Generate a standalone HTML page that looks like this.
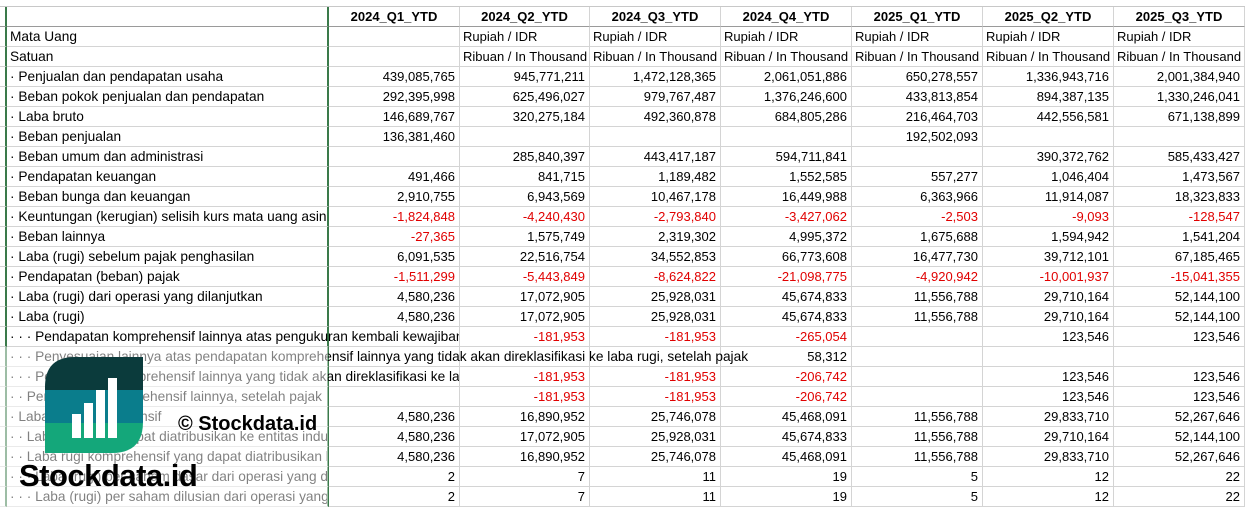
<!DOCTYPE html>
<html><head><meta charset="utf-8">
<style>
html,body{margin:0;padding:0;background:#fff;width:1245px;height:507px;overflow:hidden;font-family:"Liberation Sans",Arial,sans-serif;font-size:13px;color:#000}
#top{position:absolute;left:0;top:0;width:1245px;height:6px;border-bottom:1px solid #c8c8c8}
.row{position:absolute;left:0;height:20px;width:1245px}
.c{position:absolute;top:0;height:20px;box-sizing:border-box;border-right:1px solid #d4d4d4;border-bottom:1px solid #d4d4d4;white-space:nowrap;overflow:hidden;text-align:right;line-height:19px;padding:0 4px}
.c0{left:0;width:7px;border-right:2px solid #3a7a4a;padding:0}
.c1{left:7px;width:322px;text-align:left;padding-left:3px;border-right:2px solid #3a7a4a;overflow:visible;font-size:13.7px}
.c1 .t{overflow:hidden;width:317px}
.c2{left:329px;width:131px}.c3{left:460px;width:130px}.c4{left:590px;width:131px}.c5{left:721px;width:131px}.c6{left:852px;width:131px}.c7{left:983px;width:131px}.c8{left:1114px;width:131px}
.h .c{font-weight:bold;text-align:center;border-bottom:1px solid #9a9a9a}
.l{text-align:left;padding-left:3px}
.r{color:#e00000}
.ov{position:absolute;left:10px;top:0;overflow:hidden;white-space:nowrap;z-index:2;font-size:13.7px;line-height:19px}
#veil{position:absolute;left:0;top:347px;width:328px;height:160px;background:rgba(255,255,255,0.5);z-index:5}
#logo{position:absolute;left:45px;top:357px;z-index:6}
#copy{position:absolute;left:178px;top:413px;font-weight:bold;font-size:20px;z-index:6}
#brand{position:absolute;left:19px;top:458px;font-weight:bold;font-size:31px;letter-spacing:-0.5px;z-index:6}
</style></head><body>
<div id="top"></div>
<div class="row h" style="top:7px"><div class="c c0"></div><div class="c c1"></div><div class="c c2">2024_Q1_YTD</div><div class="c c3">2024_Q2_YTD</div><div class="c c4">2024_Q3_YTD</div><div class="c c5">2024_Q4_YTD</div><div class="c c6">2025_Q1_YTD</div><div class="c c7">2025_Q2_YTD</div><div class="c c8">2025_Q3_YTD</div></div>
<div class="row" style="top:27px"><div class="c c0"></div><div class="c c1"><div class="t">Mata Uang</div></div><div class="c c2"></div><div class="c c3 l">Rupiah / IDR</div><div class="c c4 l">Rupiah / IDR</div><div class="c c5 l">Rupiah / IDR</div><div class="c c6 l">Rupiah / IDR</div><div class="c c7 l">Rupiah / IDR</div><div class="c c8 l">Rupiah / IDR</div></div>
<div class="row" style="top:47px"><div class="c c0"></div><div class="c c1"><div class="t">Satuan</div></div><div class="c c2"></div><div class="c c3 l">Ribuan / In Thousand</div><div class="c c4 l">Ribuan / In Thousand</div><div class="c c5 l">Ribuan / In Thousand</div><div class="c c6 l">Ribuan / In Thousand</div><div class="c c7 l">Ribuan / In Thousand</div><div class="c c8 l">Ribuan / In Thousand</div></div>
<div class="row" style="top:67px"><div class="c c0"></div><div class="c c1"><div class="t">· Penjualan dan pendapatan usaha</div></div><div class="c c2">439,085,765</div><div class="c c3">945,771,211</div><div class="c c4">1,472,128,365</div><div class="c c5">2,061,051,886</div><div class="c c6">650,278,557</div><div class="c c7">1,336,943,716</div><div class="c c8">2,001,384,940</div></div>
<div class="row" style="top:87px"><div class="c c0"></div><div class="c c1"><div class="t">· Beban pokok penjualan dan pendapatan</div></div><div class="c c2">292,395,998</div><div class="c c3">625,496,027</div><div class="c c4">979,767,487</div><div class="c c5">1,376,246,600</div><div class="c c6">433,813,854</div><div class="c c7">894,387,135</div><div class="c c8">1,330,246,041</div></div>
<div class="row" style="top:107px"><div class="c c0"></div><div class="c c1"><div class="t">· Laba bruto</div></div><div class="c c2">146,689,767</div><div class="c c3">320,275,184</div><div class="c c4">492,360,878</div><div class="c c5">684,805,286</div><div class="c c6">216,464,703</div><div class="c c7">442,556,581</div><div class="c c8">671,138,899</div></div>
<div class="row" style="top:127px"><div class="c c0"></div><div class="c c1"><div class="t">· Beban penjualan</div></div><div class="c c2">136,381,460</div><div class="c c3"></div><div class="c c4"></div><div class="c c5"></div><div class="c c6">192,502,093</div><div class="c c7"></div><div class="c c8"></div></div>
<div class="row" style="top:147px"><div class="c c0"></div><div class="c c1"><div class="t">· Beban umum dan administrasi</div></div><div class="c c2"></div><div class="c c3">285,840,397</div><div class="c c4">443,417,187</div><div class="c c5">594,711,841</div><div class="c c6"></div><div class="c c7">390,372,762</div><div class="c c8">585,433,427</div></div>
<div class="row" style="top:167px"><div class="c c0"></div><div class="c c1"><div class="t">· Pendapatan keuangan</div></div><div class="c c2">491,466</div><div class="c c3">841,715</div><div class="c c4">1,189,482</div><div class="c c5">1,552,585</div><div class="c c6">557,277</div><div class="c c7">1,046,404</div><div class="c c8">1,473,567</div></div>
<div class="row" style="top:187px"><div class="c c0"></div><div class="c c1"><div class="t">· Beban bunga dan keuangan</div></div><div class="c c2">2,910,755</div><div class="c c3">6,943,569</div><div class="c c4">10,467,178</div><div class="c c5">16,449,988</div><div class="c c6">6,363,966</div><div class="c c7">11,914,087</div><div class="c c8">18,323,833</div></div>
<div class="row" style="top:207px"><div class="c c0"></div><div class="c c1"><div class="t">· Keuntungan (kerugian) selisih kurs mata uang asing</div></div><div class="c c2 r">-1,824,848</div><div class="c c3 r">-4,240,430</div><div class="c c4 r">-2,793,840</div><div class="c c5 r">-3,427,062</div><div class="c c6 r">-2,503</div><div class="c c7 r">-9,093</div><div class="c c8 r">-128,547</div></div>
<div class="row" style="top:227px"><div class="c c0"></div><div class="c c1"><div class="t">· Beban lainnya</div></div><div class="c c2 r">-27,365</div><div class="c c3">1,575,749</div><div class="c c4">2,319,302</div><div class="c c5">4,995,372</div><div class="c c6">1,675,688</div><div class="c c7">1,594,942</div><div class="c c8">1,541,204</div></div>
<div class="row" style="top:247px"><div class="c c0"></div><div class="c c1"><div class="t">· Laba (rugi) sebelum pajak penghasilan</div></div><div class="c c2">6,091,535</div><div class="c c3">22,516,754</div><div class="c c4">34,552,853</div><div class="c c5">66,773,608</div><div class="c c6">16,477,730</div><div class="c c7">39,712,101</div><div class="c c8">67,185,465</div></div>
<div class="row" style="top:267px"><div class="c c0"></div><div class="c c1"><div class="t">· Pendapatan (beban) pajak</div></div><div class="c c2 r">-1,511,299</div><div class="c c3 r">-5,443,849</div><div class="c c4 r">-8,624,822</div><div class="c c5 r">-21,098,775</div><div class="c c6 r">-4,920,942</div><div class="c c7 r">-10,001,937</div><div class="c c8 r">-15,041,355</div></div>
<div class="row" style="top:287px"><div class="c c0"></div><div class="c c1"><div class="t">· Laba (rugi) dari operasi yang dilanjutkan</div></div><div class="c c2">4,580,236</div><div class="c c3">17,072,905</div><div class="c c4">25,928,031</div><div class="c c5">45,674,833</div><div class="c c6">11,556,788</div><div class="c c7">29,710,164</div><div class="c c8">52,144,100</div></div>
<div class="row" style="top:307px"><div class="c c0"></div><div class="c c1"><div class="t">· Laba (rugi)</div></div><div class="c c2">4,580,236</div><div class="c c3">17,072,905</div><div class="c c4">25,928,031</div><div class="c c5">45,674,833</div><div class="c c6">11,556,788</div><div class="c c7">29,710,164</div><div class="c c8">52,144,100</div></div>
<div class="row" style="top:327px"><div class="c c0"></div><div class="c c1"></div><div class="c c2"></div><div class="c c3 r">-181,953</div><div class="c c4 r">-181,953</div><div class="c c5 r">-265,054</div><div class="c c6"></div><div class="c c7">123,546</div><div class="c c8">123,546</div><div class="ov" style="width:449px">· · · Pendapatan komprehensif lainnya atas pengukuran kembali kewajiban imbalan pasti</div></div>
<div class="row" style="top:347px"><div class="c c0"></div><div class="c c1"></div><div class="c c2"></div><div class="c c3"></div><div class="c c4"></div><div class="c c5">58,312</div><div class="c c6"></div><div class="c c7"></div><div class="c c8"></div><div class="ov" style="width:840px">· · · Penyesuaian lainnya atas pendapatan komprehensif lainnya yang tidak akan direklasifikasi ke laba rugi, setelah pajak</div></div>
<div class="row" style="top:367px"><div class="c c0"></div><div class="c c1"></div><div class="c c2"></div><div class="c c3 r">-181,953</div><div class="c c4 r">-181,953</div><div class="c c5 r">-206,742</div><div class="c c6"></div><div class="c c7">123,546</div><div class="c c8">123,546</div><div class="ov" style="width:449px">· · · Pendapatan komprehensif lainnya yang tidak akan direklasifikasi ke laba rugi, setelah pajak</div></div>
<div class="row" style="top:387px"><div class="c c0"></div><div class="c c1"><div class="t">· · Pendapatan komprehensif lainnya, setelah pajak</div></div><div class="c c2"></div><div class="c c3 r">-181,953</div><div class="c c4 r">-181,953</div><div class="c c5 r">-206,742</div><div class="c c6"></div><div class="c c7">123,546</div><div class="c c8">123,546</div></div>
<div class="row" style="top:407px"><div class="c c0"></div><div class="c c1"><div class="t">· Laba rugi komprehensif</div></div><div class="c c2">4,580,236</div><div class="c c3">16,890,952</div><div class="c c4">25,746,078</div><div class="c c5">45,468,091</div><div class="c c6">11,556,788</div><div class="c c7">29,833,710</div><div class="c c8">52,267,646</div></div>
<div class="row" style="top:427px"><div class="c c0"></div><div class="c c1"><div class="t">· · Laba rugi yang dapat diatribusikan ke entitas induk</div></div><div class="c c2">4,580,236</div><div class="c c3">17,072,905</div><div class="c c4">25,928,031</div><div class="c c5">45,674,833</div><div class="c c6">11,556,788</div><div class="c c7">29,710,164</div><div class="c c8">52,144,100</div></div>
<div class="row" style="top:447px"><div class="c c0"></div><div class="c c1"><div class="t">· · Laba rugi komprehensif yang dapat diatribusikan ke entitas induk</div></div><div class="c c2">4,580,236</div><div class="c c3">16,890,952</div><div class="c c4">25,746,078</div><div class="c c5">45,468,091</div><div class="c c6">11,556,788</div><div class="c c7">29,833,710</div><div class="c c8">52,267,646</div></div>
<div class="row" style="top:467px"><div class="c c0"></div><div class="c c1"><div class="t">· · · Laba (rugi) per saham dasar dari operasi yang dilanjutkan</div></div><div class="c c2">2</div><div class="c c3">7</div><div class="c c4">11</div><div class="c c5">19</div><div class="c c6">5</div><div class="c c7">12</div><div class="c c8">22</div></div>
<div class="row" style="top:487px"><div class="c c0"></div><div class="c c1"><div class="t">· · · Laba (rugi) per saham dilusian dari operasi yang dilanjutkan</div></div><div class="c c2">2</div><div class="c c3">7</div><div class="c c4">11</div><div class="c c5">19</div><div class="c c6">5</div><div class="c c7">12</div><div class="c c8">22</div></div>
<div id="veil"></div>
<svg id="logo" width="100" height="98" viewBox="0 0 100 98">
<defs><clipPath id="c"><path d="M30 0 H98 V65 Q98 96 67 96 H0 V30 Q0 0 30 0 Z"/></clipPath></defs>
<g clip-path="url(#c)">
<rect x="0" y="0" width="100" height="33" fill="#0b3b3c"/>
<rect x="0" y="33" width="100" height="33" fill="#0a7d8c"/>
<rect x="0" y="66" width="100" height="32" fill="#14a77a"/>
</g>
<rect x="27" y="57" width="9" height="24" fill="#fff"/>
<rect x="39" y="46" width="9" height="35" fill="#fff"/>
<rect x="51" y="33" width="9" height="48" fill="#fff"/>
<rect x="63" y="21" width="9" height="60" fill="#fff"/>
</svg>
<div id="copy">© Stockdata.id</div>
<div id="brand">Stockdata.id</div>
</body></html>
